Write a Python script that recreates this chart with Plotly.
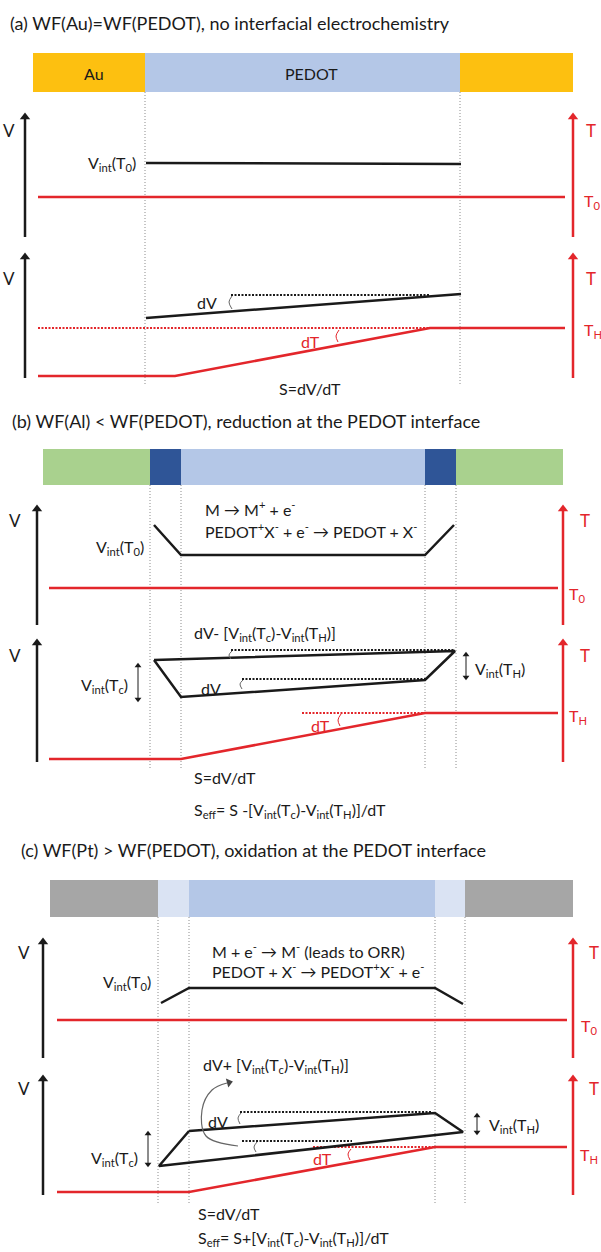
import plotly.graph_objects as go

# ---------------- data (schematic coordinates, pixel space of the figure) -------------
FONT = "Lato"
BLACK = "#1a1a1a"
RED = "#E3262B"

TITLES = ["(a) WF(Au)=WF(PEDOT), no interfacial electrochemistry",
          "(b) WF(Al) < WF(PEDOT), reduction at the PEDOT interface",
          "(c) WF(Pt) > WF(PEDOT), oxidation at the PEDOT interface"]
TITLE_X = [8, 10, 19]
TITLE_Y = [23, 421, 850]

# material bars: segment edges, colours, vertical extent
A_BAR_X = [33, 145, 460, 573]
A_BAR_COL = ["#FDC010", "#B4C7E7", "#FDC010"]
A_BAR_Y = [53, 92]
B_BAR_X = [43, 150, 181, 425, 456, 563]
B_BAR_COL = ["#A9D18E", "#2F5597", "#B4C7E7", "#2F5597", "#A9D18E"]
B_BAR_Y = [449, 485]
C_BAR_X = [50, 158, 189, 435, 465, 573]
C_BAR_COL = ["#A6A6A6", "#DAE3F3", "#B4C7E7", "#DAE3F3", "#A6A6A6"]
C_BAR_Y = [880, 917]

# dotted guide lines (x positions, y start, y end)
A_GUIDE_X = [145, 460]; A_GUIDE_Y = [92, 385]
B_GUIDE_X = [150, 181, 425, 456]; B_GUIDE_Y = [485, 768]
C_GUIDE_X = [158, 189, 435, 465]; C_GUIDE_Y = [917, 1203]

# axes arrows: (x of V axis, x of T axis, [top, bottom] for upper and lower)
A_AX = dict(vx=25, tx=573, up=[113, 237], lo=[253, 378])
B_AX = dict(vx=37, tx=563, up=[505, 625], lo=[639, 762])
C_AX = dict(vx=43, tx=573, up=[938, 1058], lo=[1075, 1195])

# ---- panel (a)
A_VINT_X = [146, 461]; A_VINT_Y = [163, 164]
A_T0_X = [38, 565]; A_T0_Y = [197, 197]
A_VLO_X = [146, 461]; A_VLO_Y = [318, 294]
A_DV_DOT_X = [231, 430]; A_DV_DOT_Y = [295, 295]
A_TLO_X = [38, 175, 430, 565]; A_TLO_Y = [376, 376, 328, 328]
A_T_DOT_X = [38, 430]; A_T_DOT_Y = [328, 328]
A_ARC_V_X = [232, 229, 232]; A_ARC_V_Y = [296, 302, 309]
A_ARC_T_X = [339, 336, 338]; A_ARC_T_Y = [330, 336, 342]

# ---- panel (b)
B_VINT_X = [154, 181, 425, 454]; B_VINT_Y = [525, 555, 555, 525]
B_T0_X = [49, 558]; B_T0_Y = [588, 588]
B_TRAP_X = [154, 455, 425, 181, 154]; B_TRAP_Y = [660, 651, 680, 697, 660]
B_DOT1_X = [231, 454]; B_DOT1_Y = [650, 650]
B_DOT2_X = [242, 425]; B_DOT2_Y = [679, 679]
B_ARC1_X = [232, 229, 231]; B_ARC1_Y = [651, 655, 659]
B_ARC2_X = [243, 240, 242]; B_ARC2_Y = [680, 684, 689]
B_TLO_X = [49, 181, 425, 558]; B_TLO_Y = [759, 759, 713, 713]
B_T_DOT_X = [302, 425]; B_T_DOT_Y = [713, 713]
B_ARC_T_X = [341, 338, 340]; B_ARC_T_Y = [714, 720, 726]
B_VTC_ARROW = dict(x=138, y=[663, 702])
B_VTH_ARROW = dict(x=466, y=[652, 680])

# ---- panel (c)
C_VINT_X = [161, 189, 435, 463]; C_VINT_Y = [1003, 988, 988, 1004]
C_T0_X = [57, 567]; C_T0_Y = [1020, 1020]
C_TRAP_X = [189, 435, 463, 159, 189]; C_TRAP_Y = [1131, 1113, 1132, 1166, 1131]
C_DOT1_X = [240, 431]; C_DOT1_Y = [1112, 1112]
C_DOT2_X = [242, 352]; C_DOT2_Y = [1141, 1141]
C_ARC1_X = [241, 238, 240]; C_ARC1_Y = [1113, 1118, 1124]
C_ARC2_X = [257, 254, 256]; C_ARC2_Y = [1142, 1147, 1152]
C_CURVE_X = [238, 206, 202, 212, 227]; C_CURVE_Y = [1146, 1136, 1110, 1090, 1083]
C_TLO_X = [57, 189, 435, 567]; C_TLO_Y = [1192, 1192, 1147, 1147]
C_T_DOT_X = [313, 435]; C_T_DOT_Y = [1147, 1147]
C_ARC_T_X = [351, 348, 350]; C_ARC_T_Y = [1149, 1154, 1160]
C_VTC_ARROW = dict(x=148, y=[1131, 1167])
C_VTH_ARROW = dict(x=477, y=[1113, 1135])

# text labels: (text, x, y, anchor, colour)
VI = "V<sub>int</sub>"
LABELS = [
    # panel a
    ("Au", 94, 73, "center", BLACK), ("PEDOT", 311, 73, "center", BLACK),
    (VI + "(T<sub>0</sub>)", 138, 163, "right", BLACK),
    ("dV", 207, 302, "center", BLACK), ("dT", 310, 341, "center", RED),
    ("S=dV/dT", 310, 388, "center", BLACK),
    ("T<sub>0</sub>", 582, 201, "left", RED), ("T<sub>H</sub>", 582, 330, "left", RED),
    # panel b
    ("M → M<sup>+</sup> + e<sup>-</sup>", 203, 508, "left", BLACK),
    ("PEDOT<sup>+</sup>X<sup>-</sup> + e<sup>-</sup> → PEDOT + X<sup>-</sup>", 203, 530, "left", BLACK),
    (VI + "(T<sub>0</sub>)", 146, 547, "right", BLACK),
    ("dV- [" + VI + "(T<sub>c</sub>)-" + VI + "(T<sub>H</sub>)]", 192, 633, "left", BLACK),
    ("dV", 211, 688, "center", BLACK),
    (VI + "(T<sub>c</sub>)", 130, 685, "right", BLACK),
    (VI + "(T<sub>H</sub>)", 473, 669, "left", BLACK),
    ("dT", 320, 725, "center", RED),
    ("T<sub>0</sub>", 567, 594, "left", RED), ("T<sub>H</sub>", 567, 716, "left", RED),
    ("S=dV/dT", 192, 777, "left", BLACK),
    ("S<sub>eff</sub>= S -[" + VI + "(T<sub>c</sub>)-" + VI + "(T<sub>H</sub>)]/dT", 192, 810, "left", BLACK),
    # panel c
    ("M + e<sup>-</sup> → M<sup>-</sup> (leads to ORR)", 210, 950, "left", BLACK),
    ("PEDOT + X<sup>-</sup> → PEDOT<sup>+</sup>X<sup>-</sup> + e<sup>-</sup>", 210, 970, "left", BLACK),
    (VI + "(T<sub>0</sub>)", 153, 982, "right", BLACK),
    ("dV+ [" + VI + "(T<sub>c</sub>)-" + VI + "(T<sub>H</sub>)]", 201, 1065, "left", BLACK),
    ("dV", 218, 1121, "center", BLACK),
    (VI + "(T<sub>H</sub>)", 487, 1125, "left", BLACK),
    (VI + "(T<sub>c</sub>)", 140, 1158, "right", BLACK),
    ("dT", 322, 1158, "center", RED),
    ("T<sub>0</sub>", 579, 1026, "left", RED), ("T<sub>H</sub>", 578, 1155, "left", RED),
    ("S=dV/dT", 196, 1213, "left", BLACK),
    ("S<sub>eff</sub>= S+[" + VI + "(T<sub>c</sub>)-" + VI + "(T<sub>H</sub>)]/dT", 196, 1238, "left", BLACK),
]
# axis letter labels: (x of V letter, x of T letter, y upper, y lower)
AXIS_LETTERS = [(9, 584, 130, 278), (15, 578, 520, 655), (24, 587, 952, 1088)]

# ---------------- figure -------------
fig = go.Figure()
shapes = []
annotations = []


def add_line(xs, ys, color=BLACK, width=2.5, dash="solid", spline=False):
    fig.add_trace(go.Scatter(x=xs, y=ys, mode="lines", hoverinfo="skip", showlegend=False,
                             line=dict(color=color, width=width, dash=dash,
                                       shape="spline" if spline else "linear")))


def add_bar(edges, colors, yr):
    for i, c in enumerate(colors):
        shapes.append(dict(type="rect", xref="x", yref="y", x0=edges[i], x1=edges[i + 1],
                           y0=yr[0], y1=yr[1], fillcolor=c, line=dict(width=0), layer="below"))


def add_guides(xs, yr):
    for x in xs:
        add_line([x, x], yr, color="#8c8c8c", width=1, dash="1px,2px")


def add_varrow(x, y_top, y_bot, color, width, head, both=False):
    # vertical line with triangle heads; y axis is reversed (top = smaller value)
    off = head * 0.45
    y0 = y_top + off
    y1 = y_bot - off if both else y_bot
    add_line([x, x], [y0, y1], color, width)
    xs, ys, sy = [x], [y0], ["triangle-up"]
    if both:
        xs.append(x); ys.append(y1); sy.append("triangle-down")
    fig.add_trace(go.Scatter(x=xs, y=ys, mode="markers", hoverinfo="skip", showlegend=False,
                             marker=dict(symbol=sy, size=head, color=color, line=dict(width=0))))


def add_axes(ax):
    for yr in (ax["up"], ax["lo"]):
        add_varrow(ax["vx"], yr[0], yr[1], BLACK, 2.5, 9)
        add_varrow(ax["tx"], yr[0], yr[1], RED, 2.5, 9)


# bars
add_bar(A_BAR_X, A_BAR_COL, A_BAR_Y)
add_bar(B_BAR_X, B_BAR_COL, B_BAR_Y)
add_bar(C_BAR_X, C_BAR_COL, C_BAR_Y)

# guides
add_guides(A_GUIDE_X, A_GUIDE_Y)
add_guides(B_GUIDE_X, B_GUIDE_Y)
add_guides(C_GUIDE_X, C_GUIDE_Y)

# axes
add_axes(A_AX); add_axes(B_AX); add_axes(C_AX)

DOT = "2px,1.5px"
# panel a
add_line(A_VINT_X, A_VINT_Y)
add_line(A_T0_X, A_T0_Y, RED)
add_line(A_DV_DOT_X, A_DV_DOT_Y, BLACK, 2.2, DOT)
add_line(A_VLO_X, A_VLO_Y)
add_line(A_T_DOT_X, A_T_DOT_Y, RED, 2.2, DOT)
add_line(A_TLO_X, A_TLO_Y, RED)
add_line(A_ARC_V_X, A_ARC_V_Y, "#666", 1, spline=True)
add_line(A_ARC_T_X, A_ARC_T_Y, RED, 1, spline=True)

# panel b
add_line(B_VINT_X, B_VINT_Y)
add_line(B_T0_X, B_T0_Y, RED)
add_line(B_DOT1_X, B_DOT1_Y, BLACK, 2.2, DOT)
add_line(B_DOT2_X, B_DOT2_Y, BLACK, 2.2, DOT)
add_line(B_TRAP_X, B_TRAP_Y)
add_line(B_ARC1_X, B_ARC1_Y, "#666", 1, spline=True)
add_line(B_ARC2_X, B_ARC2_Y, "#666", 1, spline=True)
add_line(B_T_DOT_X, B_T_DOT_Y, RED, 2.2, DOT)
add_line(B_TLO_X, B_TLO_Y, RED)
add_line(B_ARC_T_X, B_ARC_T_Y, RED, 1, spline=True)
add_varrow(B_VTC_ARROW["x"], B_VTC_ARROW["y"][0], B_VTC_ARROW["y"][1], BLACK, 1, 6, both=True)
add_varrow(B_VTH_ARROW["x"], B_VTH_ARROW["y"][0], B_VTH_ARROW["y"][1], BLACK, 1, 6, both=True)

# panel c
add_line(C_VINT_X, C_VINT_Y)
add_line(C_T0_X, C_T0_Y, RED)
add_line(C_DOT1_X, C_DOT1_Y, BLACK, 2.2, DOT)
add_line(C_DOT2_X, C_DOT2_Y, BLACK, 2.2, DOT)
add_line(C_T_DOT_X, C_T_DOT_Y, RED, 2.2, DOT)
add_line(C_TLO_X, C_TLO_Y, RED)
add_line(C_TRAP_X, C_TRAP_Y)
add_line(C_ARC1_X, C_ARC1_Y, "#666", 1, spline=True)
add_line(C_ARC2_X, C_ARC2_Y, "#666", 1, spline=True)
add_line(C_ARC_T_X, C_ARC_T_Y, RED, 1, spline=True)
add_line(C_CURVE_X, C_CURVE_Y, "#666", 1.2, spline=True)
fig.add_trace(go.Scatter(x=[C_CURVE_X[-1] + 2], y=[C_CURVE_Y[-1] - 0.5], mode="markers",
                         hoverinfo="skip", showlegend=False,
                         marker=dict(symbol="triangle-right", size=8, angle=-15, color="#444",
                                     line=dict(width=0))))
add_varrow(C_VTC_ARROW["x"], C_VTC_ARROW["y"][0], C_VTC_ARROW["y"][1], BLACK, 1, 6, both=True)
add_varrow(C_VTH_ARROW["x"], C_VTH_ARROW["y"][0], C_VTH_ARROW["y"][1], BLACK, 1, 6, both=True)

# titles
for t, x, y in zip(TITLES, TITLE_X, TITLE_Y):
    annotations.append(dict(text=t, x=x, y=y, xref="x", yref="y", xanchor="left", yanchor="middle",
                            showarrow=False, font=dict(family=FONT, size=18, color=BLACK)))

# labels
for text, x, y, anc, col in LABELS:
    annotations.append(dict(text=text, x=x, y=y, xref="x", yref="y", xanchor=anc, yanchor="middle",
                            showarrow=False, font=dict(family=FONT, size=16, color=col)))

for vx, tx, yu, yl in AXIS_LETTERS:
    for yy in (yu, yl):
        annotations.append(dict(text="V", x=vx, y=yy, xref="x", yref="y", xanchor="center",
                                yanchor="middle", showarrow=False,
                                font=dict(family=FONT, size=17, color=BLACK)))
        annotations.append(dict(text="T", x=tx, y=yy, xref="x", yref="y", xanchor="left",
                                yanchor="middle", showarrow=False,
                                font=dict(family=FONT, size=17, color=RED)))

fig.update_layout(
    width=601, height=1252, margin=dict(l=0, r=0, t=0, b=0),
    paper_bgcolor="white", plot_bgcolor="white",
    xaxis=dict(range=[0, 601], visible=False, fixedrange=True),
    yaxis=dict(range=[1252, 0], visible=False, fixedrange=True),
    shapes=shapes, annotations=annotations, showlegend=False,
)

fig.write_html("out.html", config={"displayModeBar": False},
               post_script="document.body.style.margin='0px';document.body.style.overflow='hidden';")
